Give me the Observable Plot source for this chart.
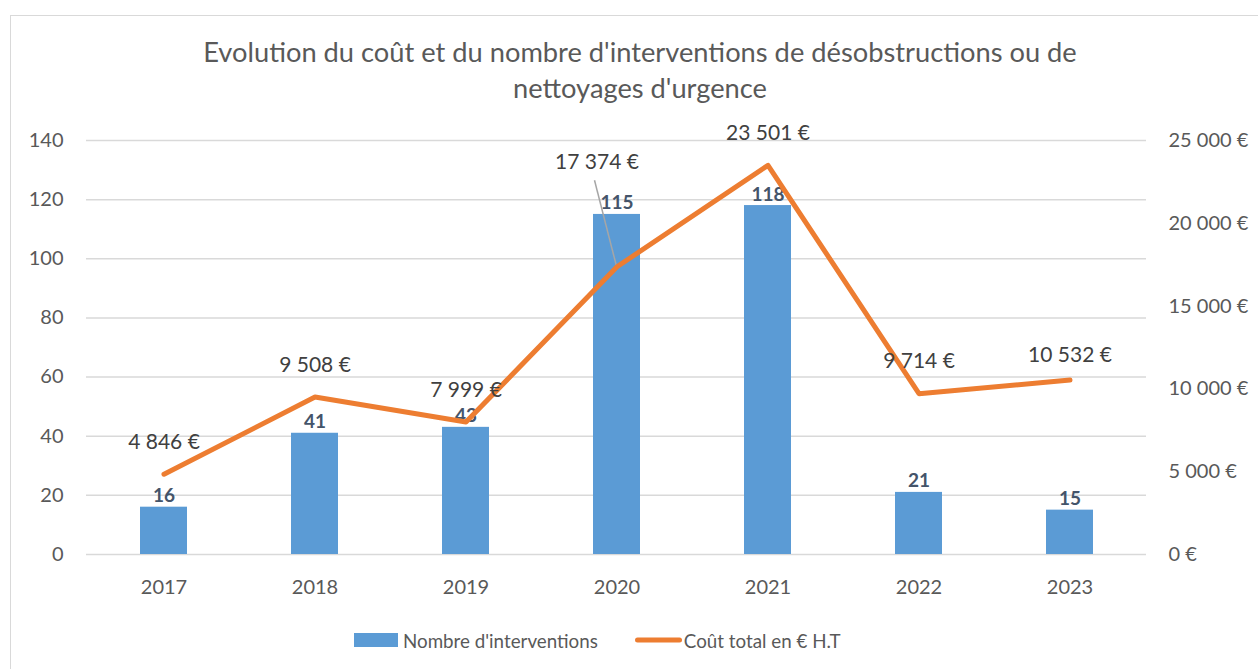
<!DOCTYPE html>
<html>
<head>
<meta charset="utf-8">
<script src="https://cdn.jsdelivr.net/npm/d3@7"></script>
<script src="https://cdn.jsdelivr.net/npm/@observablehq/plot@0.6"></script>
<style>
  html, body { margin: 0; padding: 0; background: #fff; }
  body { width: 1258px; height: 669px; overflow: hidden; position: relative; font-family: Lato, "Open Sans", sans-serif; }
  #frame { position: absolute; left: 10px; top: 15px; width: 1400px; height: 800px; border: 1.5px solid #d9d9d9; box-sizing: border-box; }
  #title { position: absolute; left: 0; top: 34px; width: 1280px; text-align: center; color: #595959; font-size: 24px; line-height: 36px; }
  #chart { position: absolute; left: 0; top: 110px; }
  #legend { position: absolute; left: 354px; top: 626px; display: flex; align-items: center; color: #595959; font-size: 19px; height: 28px; }
  #legend .sw { width: 44px; height: 14px; background: #5B9BD5; margin-right: 5px; }
  #legend .ln { margin-left: 37px; margin-right: 2px; }
</style>
</head>
<body>
<div id="frame"></div>
<div id="title"><span id="t1">Evolution du coût et du nombre d'interventions de désobstructions ou de</span><br><span id="t2">nettoyages d'urgence</span></div>
<div id="chart"></div>
<div id="legend">
  <div class="sw"></div><span id="l1">Nombre d'interventions</span>
  <svg class="ln" width="47" height="10"><line x1="2.5" y1="5" x2="44.5" y2="5" stroke="#ED7D31" stroke-width="5" stroke-linecap="round"/></svg><span id="l2">Coût total en € H.T</span>
</div>
<script>
// ---- Data ----
const years = ["2017", "2018", "2019", "2020", "2021", "2022", "2023"];
const interventions = [16, 41, 43, 115, 118, 21, 15];
const costs = [4846, 9508, 7999, 17374, 23501, 9714, 10532];
const countTicks = [0, 20, 40, 60, 80, 100, 120, 140];
const costTicks = [0, 5000, 10000, 15000, 20000, 25000];

const countMax = 140, costMax = 25000;
const k = countMax / costMax; // cost -> left-axis units

const data = years.map((year, i) => ({year, count: interventions[i], cost: costs[i], costY: costs[i] * k}));
const fmtEuro = v => d3.format(",")(v).replace(/,/g, " ") + " €";

// fit font to target width
function fit(el, target, base) {
  const c = document.createElement("canvas").getContext("2d");
  const cs = getComputedStyle(el);
  c.font = `${cs.fontWeight} ${base}px ${cs.fontFamily}`;
  const w = c.measureText(el.textContent).width;
  return base * target / w;
}
const titleSize = fit(document.getElementById("t1"), 874, 24);
document.getElementById("title").style.fontSize = titleSize + "px";
const legSize = fit(document.getElementById("l1"), 195, 19);
document.getElementById("legend").style.fontSize = legSize + "px";

const textColor = "#595959";
const leader = (index, scales) => {
  const sx = scales.x, sy = scales.y;
  const bw = typeof sx.bandwidth === "function" ? sx.bandwidth() : (sx.bandwidth || 0);
  const d = data.find(e => e.year === "2020");
  const cx = sx(d.year) + bw / 2, cy = sy(d.costY);
  const g = d3.create("svg:g");
  g.append("line").attr("x1", cx - 22).attr("y1", cy - 86).attr("x2", cx).attr("y2", cy)
    .attr("stroke", "#A6A6A6").attr("stroke-width", 1.5);
  return g.node();
};

const others = data.filter(d => d.year !== "2020" && d.year !== "2023");
const y2020 = data.filter(d => d.year === "2020");
const y2023 = data.filter(d => d.year === "2023");

const chart = Plot.plot({
  width: 1258,
  height: 500,
  marginTop: 30,
  marginBottom: 56,
  marginLeft: 86,
  marginRight: 112,
  style: {fontFamily: "Lato, 'Open Sans', sans-serif", color: textColor, background: "transparent", overflow: "visible"},
  x: {domain: years, padding: 0},
  y: {domain: [0, countMax]},
  marks: [
    Plot.gridY(countTicks, {stroke: "#d9d9d9", strokeOpacity: 1, strokeWidth: 1.5}),
    Plot.axisX({tickSize: 0, tickPadding: 25, fontSize: 20, label: null, fill: textColor}),
    Plot.axisY({ticks: countTicks, tickSize: 0, tickPadding: 23, fontSize: 20, label: null, fill: textColor}),
    Plot.axisY({anchor: "right", ticks: costTicks.map(c => c * k), tickFormat: v => fmtEuro(Math.round(v / k)), tickSize: 0, tickPadding: 22, fontSize: 20, label: null, fill: textColor}),
    Plot.barY(data, {x: "year", y: "count", fill: "#5B9BD5", insetLeft: 52, insetRight: 52}),
    Plot.text(data, {x: "year", y: "count", text: d => String(d.count), lineAnchor: "bottom", dy: -5, fontSize: 19, fontWeight: "bold", fill: "#44546A"}),
    leader,
    Plot.line(data, {x: "year", y: "costY", stroke: "#ED7D31", strokeWidth: 5, strokeLinecap: "round", strokeLinejoin: "round"}),
    Plot.text(others, {x: "year", y: "costY", text: d => fmtEuro(d.cost), dy: -32, fontSize: 21, fill: "#404040"}),
    Plot.text(y2023, {x: "year", y: "costY", text: d => fmtEuro(d.cost), dy: -25, fontSize: 21, fill: "#404040"}),
    Plot.text(y2020, {x: "year", y: "costY", text: d => fmtEuro(d.cost), dx: -20, dy: -105, fontSize: 21, fill: "#404040"})
  ]
});
document.getElementById("chart").appendChild(chart);
</script>
</body>
</html>
